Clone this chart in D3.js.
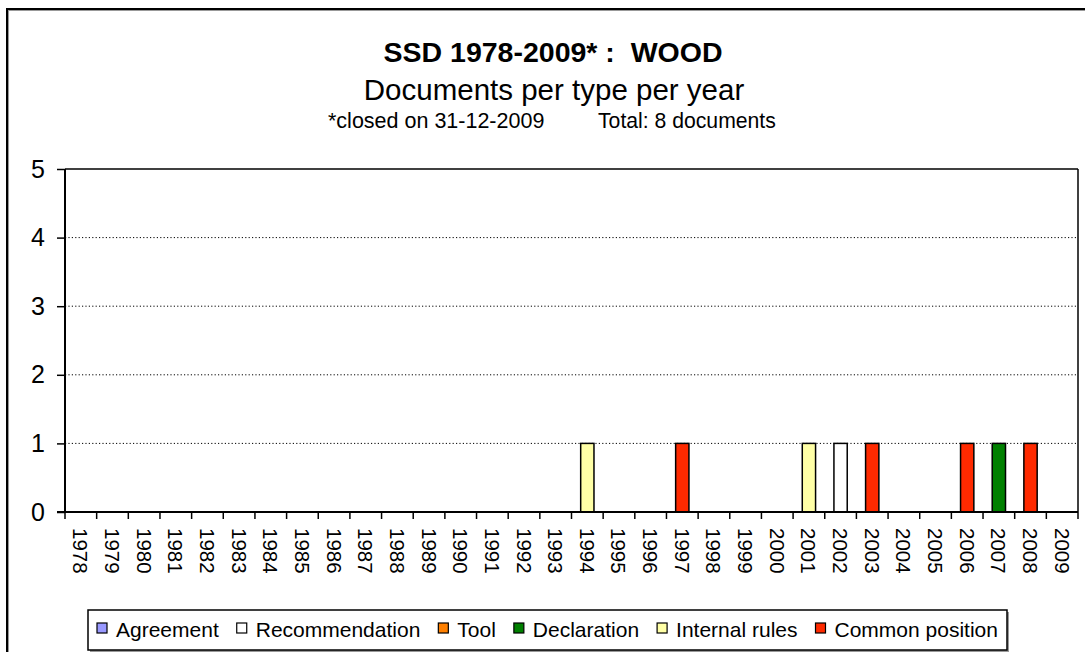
<!DOCTYPE html>
<html>
<head>
<meta charset="utf-8">
<script src="https://cdn.jsdelivr.net/npm/d3@7"></script>
<style>
  html, body { margin: 0; padding: 0; background: #fff; }
  svg { display: block; font-family: "Liberation Sans", Arial, sans-serif; }
  text { white-space: pre; }
</style>
</head>
<body>
<svg id="chart" width="1085" height="652"></svg>
<script>
// ---- data ----
const years = ["1978","1979","1980","1981","1982","1983","1984","1985","1986","1987","1988","1989","1990","1991","1992","1993","1994","1995","1996","1997","1998","1999","2000","2001","2002","2003","2004","2005","2006","2007","2008","2009"];
const seriesNames = ["Agreement","Recommendation","Tool","Declaration","Internal rules","Common position"];
const seriesColors = ["#9999ff","#ffffff","#ff8000","#008000","#ffffa6","#ff2a00"];
const agreement      = [0,0,0,0,0,0,0,0,0,0,0,0,0,0,0,0,0,0,0,0,0,0,0,0,0,0,0,0,0,0,0,0];
const recommendation = [0,0,0,0,0,0,0,0,0,0,0,0,0,0,0,0,0,0,0,0,0,0,0,0,1,0,0,0,0,0,0,0];
const tool           = [0,0,0,0,0,0,0,0,0,0,0,0,0,0,0,0,0,0,0,0,0,0,0,0,0,0,0,0,0,0,0,0];
const declaration    = [0,0,0,0,0,0,0,0,0,0,0,0,0,0,0,0,0,0,0,0,0,0,0,0,0,0,0,0,0,1,0,0];
const internalRules  = [0,0,0,0,0,0,0,0,0,0,0,0,0,0,0,0,1,0,0,0,0,0,0,1,0,0,0,0,0,0,0,0];
const commonPosition = [0,0,0,0,0,0,0,0,0,0,0,0,0,0,0,0,0,0,0,1,0,0,0,0,0,1,0,0,1,0,1,0];
const yTicks = [0,1,2,3,4,5];
const titleText = "SSD 1978-2009* :  WOOD";
const subtitleText = "Documents per type per year";
const noteLeft = "*closed on 31-12-2009";
const noteRight = "Total: 8 documents";

(function () {
// ---- build table ----
const allSeries = [agreement, recommendation, tool, declaration, internalRules, commonPosition];
const table = years.map((yr, i) => {
  const row = { year: yr };
  seriesNames.forEach((s, k) => row[s] = allSeries[k][i]);
  return row;
});
const stacked = d3.stack().keys(seriesNames)(table);

const svg = d3.select("#chart");

// outer frame
svg.append("rect").attr("x", 8).attr("y", 10).attr("width", 1100).attr("height", 700)
  .attr("fill", "none").attr("stroke", "#999").attr("stroke-width", 2);
svg.append("rect").attr("x", 7).attr("y", 9).attr("width", 1100).attr("height", 700)
  .attr("fill", "none").attr("stroke", "#000").attr("stroke-width", 2);

const pLeft = 65, pRight = 1078, pTop = 169, pBottom = 512;
const x = d3.scaleBand().domain(years).range([pLeft, pRight]).padding(0);
const y = d3.scaleLinear().domain([0, 5]).range([pBottom, pTop]);

// gridlines (dotted) for 1..4
svg.append("g").selectAll("line").data(yTicks.filter(t => t > 0 && t < 5)).join("line")
  .attr("x1", pLeft).attr("x2", pRight)
  .attr("y1", d => y(d)).attr("y2", d => y(d))
  .attr("stroke", "#000").attr("stroke-width", 1).attr("stroke-dasharray", "1.2,2.2");

// plot area top & right border
svg.append("line").attr("x1", pLeft).attr("x2", pRight).attr("y1", pTop).attr("y2", pTop)
  .attr("stroke", "#000").attr("stroke-width", 1.5);
svg.append("line").attr("x1", pRight).attr("x2", pRight).attr("y1", pTop).attr("y2", pBottom)
  .attr("stroke", "#000").attr("stroke-width", 1.5);

// bars
const bw = x.bandwidth() * 0.42;
svg.append("g").selectAll("g").data(stacked).join("g")
  .attr("fill", (d, i) => seriesColors[i])
  .selectAll("rect").data(d => d.filter(p => p[1] - p[0] > 0)).join("rect")
  .attr("x", d => x(d.data.year) + x.bandwidth() / 2 - bw / 2)
  .attr("width", bw)
  .attr("y", d => y(d[1]))
  .attr("height", d => y(d[0]) - y(d[1]))
  .attr("stroke", "#000").attr("stroke-width", 1.5);

// y axis
const yAxis = d3.axisLeft(y).tickValues(yTicks).tickSize(8).tickPadding(12).tickFormat(d3.format("d"));
const yg = svg.append("g").attr("transform", `translate(${pLeft},0)`).call(yAxis);
yg.select(".domain").attr("stroke", "#000").attr("stroke-width", 2).attr("d", `M0,${pTop}V${pBottom}`);
yg.selectAll(".tick line").attr("stroke", "#000").attr("stroke-width", 1.5);
yg.selectAll(".tick text").attr("font-size", 25).attr("fill", "#000")
  .attr("font-family", "Liberation Sans, Arial, sans-serif");

// x axis
const xAxis = d3.axisBottom(x).tickSize(0).tickPadding(0);
const xg = svg.append("g").attr("transform", `translate(0,${pBottom})`).call(xAxis);
xg.select(".domain").attr("stroke", "#000").attr("stroke-width", 2).attr("d", `M${pLeft - 8},0H${pRight}`);
xg.selectAll(".tick text")
  .attr("font-size", 20.5).attr("fill", "#000")
  .attr("font-family", "Liberation Sans, Arial, sans-serif")
  .attr("text-anchor", "start")
  .attr("dy", null)
  .attr("y", null)
  .attr("dominant-baseline", "central")
  .attr("transform", "translate(0,16) rotate(90)");
// band-boundary tick marks
const boundaries = years.map(yr => x(yr)).concat([pRight]);
svg.append("g").selectAll("line").data(boundaries).join("line")
  .attr("x1", d => d).attr("x2", d => d)
  .attr("y1", pBottom).attr("y2", pBottom + 7)
  .attr("stroke", "#000").attr("stroke-width", 1.5);

// titles
svg.append("text").attr("x", 553).attr("y", 62).attr("text-anchor", "middle")
  .attr("font-size", 28.5).attr("font-weight", "bold").text(titleText);
svg.append("text").attr("x", 554).attr("y", 100).attr("text-anchor", "middle")
  .attr("font-size", 29.5).text(subtitleText);
svg.append("text").attr("x", 328).attr("y", 128).attr("text-anchor", "start")
  .attr("font-size", 21.5).text(noteLeft);
svg.append("text").attr("x", 598).attr("y", 128).attr("text-anchor", "start")
  .attr("font-size", 21.2).text(noteRight);

// legend
const lg = svg.append("g");
lg.append("rect").attr("x", 90).attr("y", 612).attr("width", 919).attr("height", 40).attr("fill", "#999");
lg.append("rect").attr("x", 88).attr("y", 610).attr("width", 919).attr("height", 40)
  .attr("fill", "#fff").attr("stroke", "#000").attr("stroke-width", 1.5);
let lx = 97;
seriesNames.forEach((name, i) => {
  lg.append("rect").attr("x", lx).attr("y", 623).attr("width", 10).attr("height", 10)
    .attr("fill", seriesColors[i]).attr("stroke", "#000").attr("stroke-width", 1.2);
  const t = lg.append("text").attr("x", lx + 19).attr("y", 629).attr("dominant-baseline", "central")
    .attr("font-size", 21).text(name);
  lx = lx + 19 + t.node().getComputedTextLength() + 18;
});
})();
</script>
</body>
</html>
